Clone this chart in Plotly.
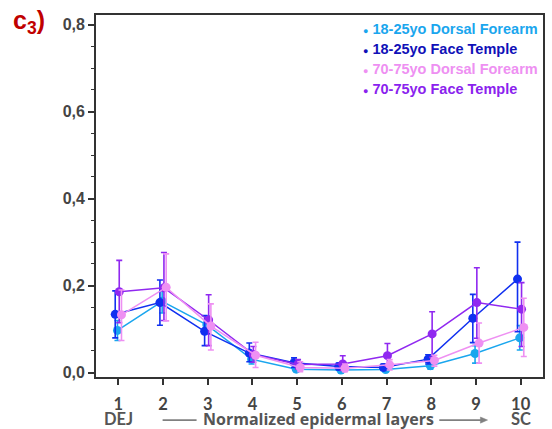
import plotly.graph_objects as go

layers = [1, 2, 3, 4, 5, 6, 7, 8, 9, 10]

names = ["18-25yo Dorsal Forearm", "18-25yo Face Temple",
         "70-75yo Dorsal Forearm", "70-75yo Face Temple"]

young_df_mean = [0.097, 0.164, 0.110, 0.031, 0.008, 0.006, 0.007, 0.016, 0.044, 0.080]
young_df_hi = [0.120, 0.190, 0.130, 0.045, 0.015, 0.012, 0.012, 0.024, 0.062, 0.108]
young_df_lo = [0.074, 0.137, 0.090, 0.020, 0.003, 0.002, 0.003, 0.008, 0.022, 0.052]

young_ft_mean = [0.134, 0.161, 0.095, 0.045, 0.023, 0.014, 0.012, 0.031, 0.125, 0.215]
young_ft_hi = [0.188, 0.213, 0.131, 0.068, 0.034, 0.022, 0.020, 0.041, 0.180, 0.300]
young_ft_lo = [0.080, 0.109, 0.062, 0.025, 0.012, 0.006, 0.005, 0.020, 0.069, 0.094]

old_df_mean = [0.133, 0.196, 0.107, 0.040, 0.012, 0.010, 0.018, 0.028, 0.068, 0.104]
old_df_hi = [0.190, 0.273, 0.158, 0.070, 0.025, 0.020, 0.030, 0.040, 0.114, 0.171]
old_df_lo = [0.074, 0.119, 0.052, 0.012, 0.002, 0.002, 0.006, 0.015, 0.022, 0.037]

old_ft_mean = [0.186, 0.195, 0.121, 0.042, 0.019, 0.020, 0.039, 0.089, 0.161, 0.146]
old_ft_hi = [0.258, 0.276, 0.179, 0.060, 0.030, 0.039, 0.067, 0.140, 0.241, 0.207]
old_ft_lo = [0.115, 0.120, 0.062, 0.024, 0.008, 0.005, 0.015, 0.035, 0.079, 0.060]

y_ticks = [0.0, 0.2, 0.4, 0.6, 0.8]

series = [
    # name, mean, hi, lo, color, legend text color, x offset
    (names[0], young_df_mean, young_df_hi, young_df_lo, "#1AA6EE", "#1AA6EE", -0.02),
    (names[1], young_ft_mean, young_ft_hi, young_ft_lo, "#1030F0", "#1010B8", -0.07),
    (names[3], old_ft_mean, old_ft_hi, old_ft_lo, "#9028F0", "#8A22EE", 0.02),
    (names[2], old_df_mean, old_df_hi, old_df_lo, "#EE90F2", "#EE90F2", 0.07),
]

fig = go.Figure()
for name, m, hi, lo, col, _, off in series:
    fig.add_trace(go.Scatter(
        x=[v + off for v in layers], y=m, name=name, mode="lines+markers",
        line=dict(color=col, width=1.5),
        marker=dict(color=col, size=9),
        error_y=dict(type="data", symmetric=False,
                     array=[h - a for h, a in zip(hi, m)],
                     arrayminus=[a - l for a, l in zip(m, lo)],
                     color=col, thickness=1.6, width=3),
        showlegend=False,
    ))

legend_order = [series[0], series[1], series[3], series[2]]
annotations = []
for i, s in enumerate(legend_order):
    annotations.append(dict(
        xref="paper", yref="paper", x=0.593, y=0.961 - i * 0.0548,
        xanchor="left", yanchor="middle", showarrow=False,
        text="<span style='font-size:9px'>●</span> " + s[0],
        font=dict(family="Liberation Sans, Arial", size=14.5, color=s[5], weight="bold"),
    ))

annotations.append(dict(
    xref="paper", yref="paper", x=-0.19, y=1.03, xanchor="left", yanchor="top",
    showarrow=False, text="<b>c<sub>3</sub>)</b>",
    font=dict(family="Liberation Sans, Arial", size=25, color="#C00000"),
))

axis_label_font = dict(family="Lato, Open Sans", size=16.5, color="#555555", weight="bold")
mid_label_font = dict(family="Open Sans", size=16, color="#555555", weight="bold")
annotations.append(dict(xref="x", yref="paper", x=1, y=-0.117, yanchor="middle",
                        showarrow=False, text="DEJ", font=axis_label_font))
annotations.append(dict(xref="x", yref="paper", x=10, y=-0.117, yanchor="middle",
                        showarrow=False, text="SC", font=axis_label_font))
annotations.append(dict(xref="paper", yref="paper", x=0.497, y=-0.117, yanchor="middle",
                        showarrow=False, text="Normalized epidermal layers",
                        font=mid_label_font))

shapes = [
    dict(type="line", xref="paper", yref="paper", x0=0.149, x1=0.225, y0=-0.119, y1=-0.119,
         line=dict(color="#808080", width=1.6)),
    dict(type="line", xref="paper", yref="paper", x0=0.768, x1=0.866, y0=-0.119, y1=-0.119,
         line=dict(color="#808080", width=1.6)),
    dict(type="path", xref="paper", yref="paper",
         path="M 0.86 -0.1105 L 0.876 -0.119 L 0.86 -0.1275 Z",
         fillcolor="#808080", line=dict(color="#808080", width=0.5)),
]

fig.update_layout(
    width=552, height=429,
    margin=dict(l=96, r=7, t=15, b=52),
    paper_bgcolor="white", plot_bgcolor="white",
    separators=",.",
    annotations=annotations,
    shapes=shapes,
    xaxis=dict(range=[0.5, 10.5], tickvals=layers, ticks="outside", ticklen=6,
               tickwidth=1.5, tickcolor="#333333", showgrid=False, zeroline=False,
               showline=True, linecolor="#333333", linewidth=1.8, mirror=True,
               ticklabelstandoff=5,
               tickfont=dict(family="Lato, Open Sans", size=16.5, color="#444444", weight="bold")),
    yaxis=dict(range=[-0.01, 0.822], tickvals=y_ticks, tickformat=".1f", ticks="outside",
               ticklen=6, tickwidth=1.5, tickcolor="#333333", showgrid=False, zeroline=False,
               showline=True, linecolor="#333333", linewidth=1.8, mirror=True,
               minor=dict(dtick=0.05, ticks="outside", ticklen=3, tickcolor="#333333",
                          tickwidth=1.2, showgrid=False),
               tickfont=dict(family="Liberation Sans, Arial", size=16, color="#444444",
                             weight="bold")),
)

fig.write_html("out.html", config={"displayModeBar": False},
               post_script="document.body.style.margin='0';document.body.style.padding='0';")
